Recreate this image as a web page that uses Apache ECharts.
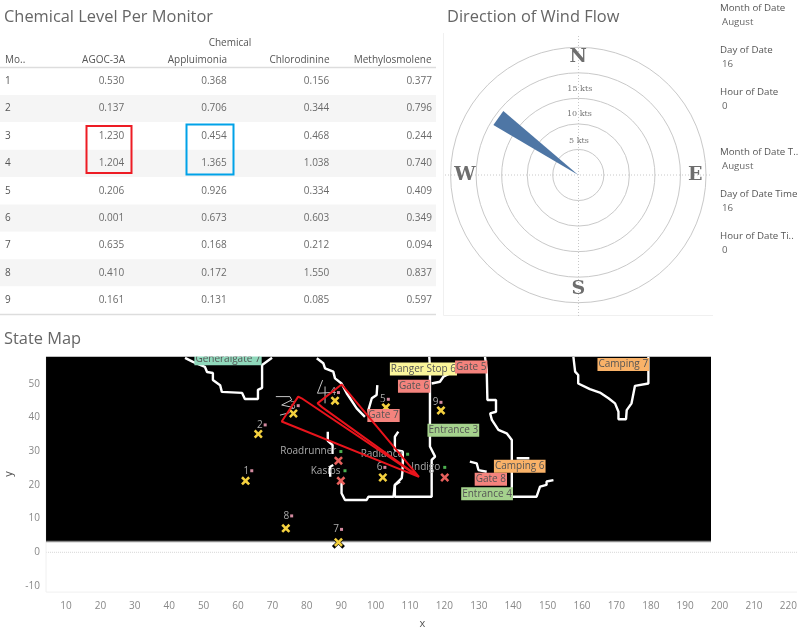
<!DOCTYPE html>
<html>
<head>
<meta charset="utf-8">
<title>Chemical Level Per Monitor</title>
<script src="https://cdn.jsdelivr.net/npm/echarts@6/dist/echarts.min.js"></script>
<style>
html,body{margin:0;padding:0;background:#fff}
#chart{width:800px;height:637px}
</style>
</head>
<body>
<div id="chart"></div>
<script>
// table
var monitors = ['1','2','3','4','5','6','7','8','9'];
var chemicals = ['AGOC-3A','Appluimonia','Chlorodinine','Methylosmolene'];
var agoc = [0.530,0.137,1.230,1.204,0.206,0.001,0.635,0.410,0.161];
var appluimonia = [0.368,0.706,0.454,1.365,0.926,0.673,0.168,0.172,0.131];
var chlorodinine = [0.156,0.344,0.468,1.038,0.334,0.603,0.212,1.550,0.085];
var methylosmolene = [0.377,0.796,0.244,0.740,0.409,0.349,0.094,0.837,0.597];

// wind [speed, angle from, angle to]
var wind = [[19.3,300.5,310.5]];
var ringLabels = ['5 kts','10 kts','15 kts'];
var ringLabelPos = [[6.7,1],[11.9,1],[16.8,1]];
var compassLabels = ['N','E','S','W'];
var compassPos = [[23,0],[22.9,90],[22.3,180],[22.2,270]];

// filters
var filterNames = ['Month of Date','Day of Date','Hour of Date','Month of Date T..','Day of Date Time','Hour of Date Ti..'];
var filterValues = ['August','16','0','August','16','0'];

// map
var mapBox = [[4.2,3.1,197.5,58.1]];
var boundaries = [
  [[44.6,57.7],[46.9,56.5],[50.4,55.0],[51.0,53.5],[52.7,53.2],[52.7,51.1],[54.8,49.6],[55.3,47.6],[61.2,47.3],[62.0,45.5],[65.8,45.5],[65.8,48.2],[67.0,48.8],[67.0,55.6],[69.9,57.7]],
  [[82.9,57.6],[84.8,56.1],[85.3,54.6],[87.7,53.6],[88.2,51.6],[90.1,50.1],[91.6,47.2],[94.5,42.7],[96.9,40.2]],
  [[100.5,49.6],[100.3,46.7],[98.9,45.7],[97.9,42.2],[98.4,40.7]],
  [[86.1,35.8],[86.1,33.1],[87.5,31.8],[87.5,29.2]],
  [[87.7,25.9],[86.8,25.4],[86.8,22.4]],
  [[90.1,21.0],[90.1,17.5],[91.1,15.5],[97.4,15.5],[97.9,16.5],[105.2,16.5],[105.6,20.0],[107.1,21.0]],
  [[106.6,35.8],[105.6,34.3],[105.6,30.4],[107.9,29.9],[107.9,26.4],[107.8,23.9],[107.6,22.0],[105.6,20.0],[105.6,16.5],[116.3,16.5],[116.3,27.4],[117.3,28.4],[115.8,31.4],[115.8,55.1],[115.6,58.0]],
  [[116.3,50.1],[118.7,50.6],[119.7,52.1],[121.6,53.1]],
  [[131.8,58.0],[132.3,54.1],[132.5,45.2],[135.0,45.2],[135.0,41.7],[133.3,41.2],[133.8,39.3],[135.7,36.3],[138.1,35.3],[139.6,33.3],[139.6,16.5],[146.8,16.5],[147.8,19.5],[149.7,20.0],[149.7,21.0],[151.7,21.4]],
  [[127.4,26.9],[129.4,26.4],[129.9,24.4],[132.3,23.9]],
  [[141.0,27.9],[144.7,27.9]],
  [[157.5,58.0],[158.0,53.6],[158.9,52.6],[158.9,50.1],[162.3,48.4],[165.2,47.4],[167.7,45.7],[169.6,44.2],[170.6,41.7],[170.6,39.5],[172.8,39.5],[173.0,42.2],[174.4,44.2],[175.4,49.4],[179.3,50.1],[179.3,58.0]]
];
var monitorX = [62.2,65.9,76.1,88.2,103.0,102.1,89.2,73.9,119.0];
var monitorY = [21.2,35.1,41.2,45.0,43.0,22.2,3.0,7.1,42.1];
var tagX = [64.0,67.9,77.5,89.2,103.7,102.7,90.1,75.6,119.0];
var tagY = [24.2,37.8,43.5,47.4,45.4,25.2,6.8,10.8,44.5];
var sensorNames = ['Roadrunner','Kasios','Radiance','Indigo'];
var sensorX = [89.9,91.1,109.3,120.1];
var sensorY = [29.9,24.2,29.1,25.2];
var crossX = [89.2,89.9,120.1];
var crossY = [27.2,21.2,22.2];
var gateNames = ['Generalgate 7','Ranger Stop 6','Gate 5','Gate 6','Gate 7','Gate 8','Entrance 3','Entrance 4','Camping 6','Camping 7'];
var gateX = [57.1,113.9,127.8,111.2,102.3,133.5,122.6,132.4,141.9,172.0];
var gateY = [57.4,54.4,55.0,49.3,40.6,21.7,36.2,17.4,25.5,55.7];
var gateColors = ['#8fd8bb','#fbf69b','#f4837d','#f4837d','#f4837d','#f4837d','#a5d28d','#a5d28d','#f9b268','#f9b268'];
var redMarks = [
  [[112.6,22.4],[72.7,38.8],[77.5,46.2],[78.5,45.7],[112.6,22.4]],
  [[112.6,22.4],[84.5,43.0],[83.1,44.2],[90.1,49.8],[112.6,22.4]]
];
var handNumbers = [
  [[71.0,46.2],[75.1,46.2],[75.6,45.2],[72.7,43.7],[75.9,43.0],[74.9,41.4],[72.2,40.7]],
  [[84.6,51.1],[83.1,47.2],[87.0,47.4]],
  [[85.3,49.2],[85.3,44.2]]
];
var zeroLine = [[4.2,0],[222.5,0]];
var plotFrame = [[4.2,58.1],[4.2,-11.8],[222.5,-11.8]];

var FONT = '"Open Sans", sans-serif';
var X_SYMBOL = 'path://M2,0 L5,3 L8,0 L10,2 L7,5 L10,8 L8,10 L5,7 L2,10 L0,8 L3,5 L0,2 Z';

function zip(xs, ys){
  return xs.map(function(v,i){ return [v, ys[i]]; });
}

function tableSeries(values, col){
  return {
    type:'scatter', xAxisIndex:0, yAxisIndex:0, symbolSize:0, silent:true,
    itemStyle:{opacity:1},
    data: values.map(function(v,i){ return [col, monitors[i], v]; }),
    label:{
      show:true, position:'left', distance:0, color:'#6b6b6b', fontFamily:FONT, fontSize:10,
      formatter:function(p){ return p.value[2].toFixed(3); }
    }
  };
}

function polyline(points, color, width, z, dash){
  return {
    type:'line', xAxisIndex:1, yAxisIndex:1, data:points, symbol:'none', silent:true, z:z,
    lineStyle:{color:color, width:width, type:dash||'solid'}
  };
}

function heading(text, x, y){
  return {type:'text', x:x, y:y, z:20, style:{text:text, fill:'#666', fontFamily:FONT, fontSize:16.4, textVerticalAlign:'middle'}};
}

function small(text, x, y, color, align, size){
  return {type:'text', x:x, y:y, z:20, style:{text:text, fill:color, fontFamily:FONT, fontSize:size||10, textAlign:align||'left', textVerticalAlign:'middle'}};
}

var graphics = [
  {type:'rect', z:15, shape:{x:0,y:349,width:800,height:7.5}, style:{fill:'#fff'}},
  {type:'line', z:0, shape:{x1:443.5,y1:33,x2:443.5,y2:315.5}, style:{stroke:'#f0f0f0'}},
  {type:'line', z:0, shape:{x1:443.5,y1:315.5,x2:713,y2:315.5}, style:{stroke:'#f0f0f0'}},
  {type:'line', z:0, shape:{x1:445,y1:175,x2:712,y2:175}, style:{stroke:'#c8c8c8',lineDash:[1,2]}},
  {type:'line', z:0, shape:{x1:578.5,y1:36,x2:578.5,y2:316}, style:{stroke:'#c8c8c8',lineDash:[1,2]}},
  {type:'line', z:5, shape:{x1:0,y1:67.5,x2:436,y2:67.5}, style:{stroke:'#ddd',lineWidth:1.5}},
  {type:'line', z:5, shape:{x1:0,y1:314.5,x2:436,y2:314.5}, style:{stroke:'#ddd',lineWidth:1.5}},
  {type:'rect', z:10, shape:{x:86.5,y:126,width:45,height:47}, style:{fill:'none',stroke:'#ed1c24',lineWidth:2}},
  {type:'rect', z:10, shape:{x:186.5,y:124.5,width:47,height:50}, style:{fill:'none',stroke:'#00a2e8',lineWidth:2}},
  heading('Chemical Level Per Monitor',4,17),
  heading('Direction of Wind Flow',447,17),
  heading('State Map',4,339),
  small('Chemical',230,43.5,'#555','center'),
  small('Mo..',5,60,'#555')
];
var headerRight = [125,227,329.5,431.5];
chemicals.forEach(function(c,i){ graphics.push(small(c,headerRight[i],60,'#555','right')); });
var filterY = [8,50,92,152.5,194,236.5];
filterNames.forEach(function(n,i){
  graphics.push(small(n,720,filterY[i],'#555','left',9.7));
  graphics.push(small(filterValues[i],722,filterY[i]+14,'#666','left',9.7));
});

var series = [
  tableSeries(agoc,1), tableSeries(appluimonia,2), tableSeries(chlorodinine,3), tableSeries(methylosmolene,4),
  {
    type:'custom', coordinateSystem:'polar', data:wind, silent:true, z:3,
    renderItem:function(params, api){
      var tip = api.coord([0,0]);
      var a = api.coord([api.value(0), api.value(1)]);
      var b = api.coord([api.value(0), api.value(2)]);
      return {type:'polygon', shape:{points:[tip,a,b]}, style:{fill:'#4e76a5'}};
    }
  },
  {
    type:'scatter', coordinateSystem:'polar', data:ringLabelPos, symbolSize:0, silent:true,
    itemStyle:{opacity:1},
    label:{show:true, position:'inside', color:'#777', fontFamily:'"DejaVu Serif", serif', fontSize:8,
      formatter:function(p){ return ringLabels[p.dataIndex]; }}
  },
  {
    type:'scatter', coordinateSystem:'polar', data:compassPos, symbolSize:0, silent:true,
    itemStyle:{opacity:1},
    label:{show:true, position:'inside', color:'#6e6e6e', fontFamily:'"DejaVu Serif", serif', fontSize:19, fontWeight:'bold',
      formatter:function(p){ return compassLabels[p.dataIndex]; }}
  },
  polyline(zeroLine,'#d5d5d5',1,1,'dotted'),
  polyline(plotFrame,'#f0f0f0',1,1),
  {
    type:'custom', xAxisIndex:1, yAxisIndex:1, data:mapBox, silent:true, z:2,
    renderItem:function(params, api){
      var p0 = api.coord([api.value(0), api.value(3)]);
      var p1 = api.coord([api.value(2), api.value(1)]);
      return {type:'group', children:[
        {type:'rect', shape:{x:p0[0],y:p0[1],width:p1[0]-p0[0],height:p1[1]-p0[1]}, style:{fill:'#000'}},
        {type:'rect', shape:{x:p0[0],y:p1[1]-1,width:p1[0]-p0[0],height:1.5}, style:{fill:'#8a8a8a'}}
      ]};
    }
  }
];
boundaries.forEach(function(b){ series.push(polyline(b,'#fff',2.4,3)); });
handNumbers.forEach(function(h){ series.push(polyline(h,'#c4c4c4',1,4)); });
series.push({
  type:'scatter', xAxisIndex:1, yAxisIndex:1, data:zip(tagX,tagY), symbol:'rect', symbolSize:3, z:5, silent:true,
  itemStyle:{color:'#d48aa0', opacity:1},
  label:{show:true, position:'left', distance:1, color:'#aaa', fontFamily:FONT, fontSize:10,
    formatter:function(p){ return monitors[p.dataIndex]; }}
});
series.push({
  type:'scatter', xAxisIndex:1, yAxisIndex:1, data:zip(sensorX,sensorY), symbol:'rect', symbolSize:3, z:5, silent:true,
  itemStyle:{color:'#4caf50', opacity:1},
  label:{show:true, position:'left', distance:3, color:'#aaa', fontFamily:FONT, fontSize:10,
    formatter:function(p){ return sensorNames[p.dataIndex]; }}
});
series.push({
  type:'scatter', xAxisIndex:1, yAxisIndex:1, data:zip(monitorX,monitorY), symbol:X_SYMBOL, symbolSize:13, z:6, silent:true,
  itemStyle:{color:'#000', opacity:1}
});
series.push({
  type:'scatter', xAxisIndex:1, yAxisIndex:1, data:zip(monitorX,monitorY), symbol:X_SYMBOL, symbolSize:9, z:6, silent:true,
  itemStyle:{color:'#f5d13f', opacity:1}
});
series.push({
  type:'scatter', xAxisIndex:1, yAxisIndex:1, data:zip(crossX,crossY), symbol:X_SYMBOL, symbolSize:9, z:6, silent:true,
  itemStyle:{color:'#e8605c', opacity:1}
});
series.push({
  type:'scatter', xAxisIndex:1, yAxisIndex:1, symbolSize:0, z:7, silent:true,
  itemStyle:{opacity:1},
  data:gateX.map(function(x,i){
    return {value:[x,gateY[i]], label:{backgroundColor:gateColors[i]}};
  }),
  label:{show:true, position:'inside', color:'#555', fontFamily:FONT, fontSize:10, padding:[1.5,1],
    formatter:function(p){ return gateNames[p.dataIndex]; }}
});
redMarks.forEach(function(r){ series.push(polyline(r,'#e8141c',2,8)); });

var chart = echarts.init(document.getElementById('chart'));
chart.setOption({
  animation:false,
  backgroundColor:'#fff',
  graphic:graphics,
  polar:{center:[578.3,175], radius:127.7},
  angleAxis:{type:'value', min:0, max:360, startAngle:90, clockwise:true, show:false},
  radiusAxis:{type:'value', min:0, max:25, interval:5,
    axisLine:{show:false}, axisTick:{show:false}, axisLabel:{show:false},
    splitLine:{show:true, lineStyle:{color:'#c9c9c9', width:1}}},
  grid:[
    {left:0, top:67.5, width:436, height:246.5, outerBoundsMode:'none'},
    {left:31.6, width:765.4, top:356.5, height:263.2, outerBoundsMode:'none'}
  ],
  xAxis:[
    {gridIndex:0, type:'value', min:-0.21, max:4.04, show:false},
    {gridIndex:1, type:'value', min:0, max:222.5, interval:10, offset:-27.7, name:'x', nameLocation:'middle', nameGap:26,
      nameTextStyle:{color:'#555', fontFamily:FONT, fontSize:11, padding:[0,0,0,16]},
      axisLine:{show:false}, axisTick:{show:false}, splitLine:{show:false},
      axisLabel:{color:'#888', fontFamily:FONT, fontSize:10, margin:9, showMinLabel:false, showMaxLabel:false}}
  ],
  yAxis:[
    {gridIndex:0, type:'category', data:monitors, inverse:true,
      axisLine:{show:false}, axisTick:{show:false}, splitLine:{show:false},
      splitArea:{show:true, areaStyle:{color:['#fff','#f5f5f5']}},
      axisLabel:{inside:true, margin:5, color:'#555', fontFamily:FONT, fontSize:10}},
    {gridIndex:1, type:'value', min:-20, max:58.1, interval:10, offset:-14.4, name:'y', nameLocation:'middle', nameGap:28, nameRotate:90,
      nameTextStyle:{color:'#555', fontFamily:FONT, fontSize:11, padding:[0,0,0,28]},
      axisLine:{show:false}, axisTick:{show:false}, splitLine:{show:false},
      axisLabel:{color:'#888', fontFamily:FONT, fontSize:10, margin:6, showMinLabel:false, showMaxLabel:false}}
  ],
  series:series
});

window.addEventListener('resize',function(){ chart.resize(); });
</script>
</body>
</html>
